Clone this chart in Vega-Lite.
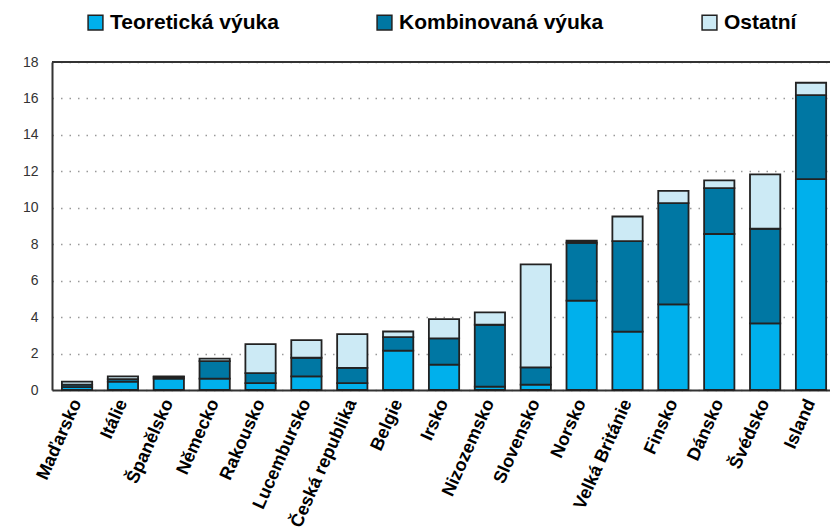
{
  "$schema": "https://vega.github.io/schema/vega-lite/v6.json",
  "autosize": "none",
  "width": 778,
  "height": 328,
  "padding": {"left": 52, "top": 62, "right": 0, "bottom": 140},
  "background": "white",
  "config": {
    "view": {"stroke": null},
    "font": "Liberation Sans"
  },
  "data": {
    "values": [
      {"zeme": "Maďarsko", "typ": "Teoretická výuka", "hodnota": 0.16, "poradi": 1},
      {"zeme": "Maďarsko", "typ": "Kombinovaná výuka", "hodnota": 0.14, "poradi": 2},
      {"zeme": "Maďarsko", "typ": "Ostatní", "hodnota": 0.16, "poradi": 3},
      {"zeme": "Itálie", "typ": "Teoretická výuka", "hodnota": 0.46, "poradi": 1},
      {"zeme": "Itálie", "typ": "Kombinovaná výuka", "hodnota": 0.14, "poradi": 2},
      {"zeme": "Itálie", "typ": "Ostatní", "hodnota": 0.15, "poradi": 3},
      {"zeme": "Španělsko", "typ": "Teoretická výuka", "hodnota": 0.62, "poradi": 1},
      {"zeme": "Španělsko", "typ": "Kombinovaná výuka", "hodnota": 0.1, "poradi": 2},
      {"zeme": "Španělsko", "typ": "Ostatní", "hodnota": 0.03, "poradi": 3},
      {"zeme": "Německo", "typ": "Teoretická výuka", "hodnota": 0.62, "poradi": 1},
      {"zeme": "Německo", "typ": "Kombinovaná výuka", "hodnota": 0.97, "poradi": 2},
      {"zeme": "Německo", "typ": "Ostatní", "hodnota": 0.13, "poradi": 3},
      {"zeme": "Rakousko", "typ": "Teoretická výuka", "hodnota": 0.38, "poradi": 1},
      {"zeme": "Rakousko", "typ": "Kombinovaná výuka", "hodnota": 0.55, "poradi": 2},
      {"zeme": "Rakousko", "typ": "Ostatní", "hodnota": 1.59, "poradi": 3},
      {"zeme": "Lucembursko", "typ": "Teoretická výuka", "hodnota": 0.75, "poradi": 1},
      {"zeme": "Lucembursko", "typ": "Kombinovaná výuka", "hodnota": 1.02, "poradi": 2},
      {"zeme": "Lucembursko", "typ": "Ostatní", "hodnota": 0.97, "poradi": 3},
      {"zeme": "Česká republika", "typ": "Teoretická výuka", "hodnota": 0.38, "poradi": 1},
      {"zeme": "Česká republika", "typ": "Kombinovaná výuka", "hodnota": 0.83, "poradi": 2},
      {"zeme": "Česká republika", "typ": "Ostatní", "hodnota": 1.86, "poradi": 3},
      {"zeme": "Belgie", "typ": "Teoretická výuka", "hodnota": 2.16, "poradi": 1},
      {"zeme": "Belgie", "typ": "Kombinovaná výuka", "hodnota": 0.74, "poradi": 2},
      {"zeme": "Belgie", "typ": "Ostatní", "hodnota": 0.31, "poradi": 3},
      {"zeme": "Irsko", "typ": "Teoretická výuka", "hodnota": 1.39, "poradi": 1},
      {"zeme": "Irsko", "typ": "Kombinovaná výuka", "hodnota": 1.44, "poradi": 2},
      {"zeme": "Irsko", "typ": "Ostatní", "hodnota": 1.06, "poradi": 3},
      {"zeme": "Nizozemsko", "typ": "Teoretická výuka", "hodnota": 0.18, "poradi": 1},
      {"zeme": "Nizozemsko", "typ": "Kombinovaná výuka", "hodnota": 3.4, "poradi": 2},
      {"zeme": "Nizozemsko", "typ": "Ostatní", "hodnota": 0.68, "poradi": 3},
      {"zeme": "Slovensko", "typ": "Teoretická výuka", "hodnota": 0.29, "poradi": 1},
      {"zeme": "Slovensko", "typ": "Kombinovaná výuka", "hodnota": 0.95, "poradi": 2},
      {"zeme": "Slovensko", "typ": "Ostatní", "hodnota": 5.65, "poradi": 3},
      {"zeme": "Norsko", "typ": "Teoretická výuka", "hodnota": 4.9, "poradi": 1},
      {"zeme": "Norsko", "typ": "Kombinovaná výuka", "hodnota": 3.18, "poradi": 2},
      {"zeme": "Norsko", "typ": "Ostatní", "hodnota": 0.11, "poradi": 3},
      {"zeme": "Velká Británie", "typ": "Teoretická výuka", "hodnota": 3.2, "poradi": 1},
      {"zeme": "Velká Británie", "typ": "Kombinovaná výuka", "hodnota": 4.97, "poradi": 2},
      {"zeme": "Velká Británie", "typ": "Ostatní", "hodnota": 1.35, "poradi": 3},
      {"zeme": "Finsko", "typ": "Teoretická výuka", "hodnota": 4.7, "poradi": 1},
      {"zeme": "Finsko", "typ": "Kombinovaná výuka", "hodnota": 5.56, "poradi": 2},
      {"zeme": "Finsko", "typ": "Ostatní", "hodnota": 0.67, "poradi": 3},
      {"zeme": "Dánsko", "typ": "Teoretická výuka", "hodnota": 8.56, "poradi": 1},
      {"zeme": "Dánsko", "typ": "Kombinovaná výuka", "hodnota": 2.52, "poradi": 2},
      {"zeme": "Dánsko", "typ": "Ostatní", "hodnota": 0.42, "poradi": 3},
      {"zeme": "Švédsko", "typ": "Teoretická výuka", "hodnota": 3.66, "poradi": 1},
      {"zeme": "Švédsko", "typ": "Kombinovaná výuka", "hodnota": 5.19, "poradi": 2},
      {"zeme": "Švédsko", "typ": "Ostatní", "hodnota": 2.98, "poradi": 3},
      {"zeme": "Island", "typ": "Teoretická výuka", "hodnota": 11.57, "poradi": 1},
      {"zeme": "Island", "typ": "Kombinovaná výuka", "hodnota": 4.61, "poradi": 2},
      {"zeme": "Island", "typ": "Ostatní", "hodnota": 0.68, "poradi": 3}
    ]
  },
  "layer": [
    {
      "mark": {"type": "bar", "stroke": "#222222", "strokeWidth": 1.8},
      "encoding": {
        "x": {
          "field": "zeme",
          "type": "nominal",
          "sort": null,
          "scale": {"paddingInner": 0.34, "paddingOuter": 0.15, "align": 0.72},
          "axis": {
            "title": null,
            "labelAngle": -66,
            "labelFont": "Liberation Sans",
            "labelFontWeight": "bold",
            "labelFontSize": 18,
            "labelColor": "#000000",
            "labelPadding": 10,
            "labelOverlap": false,
            "ticks": false,
            "domainColor": "#333333",
            "domainWidth": 2,
            "labelLimit": 300
          }
        },
        "y": {
          "field": "hodnota",
          "type": "quantitative",
          "stack": "zero",
          "scale": {"domain": [0, 18], "nice": false},
          "axis": {
            "title": null,
            "values": [0, 2, 4, 6, 8, 10, 12, 14, 16, 18],
            "tickCount": 10,
            "labelOverlap": false,
            "labelFlush": false,
            "labelFont": "Liberation Sans",
            "labelFontSize": 14,
            "labelColor": "#333333",
            "labelPadding": 14,
            "ticks": false,
            "domainColor": "#333333",
            "domainWidth": 2,
            "grid": true,
            "gridColor": "#999999",
            "gridDash": [1.5, 7],
            "gridWidth": 1.5
          }
        },
        "color": {
          "field": "typ",
          "type": "nominal",
          "sort": ["Teoretická výuka", "Kombinovaná výuka", "Ostatní"],
          "scale": {
            "domain": ["Teoretická výuka", "Kombinovaná výuka", "Ostatní"],
            "range": ["#00B0EC", "#0077A3", "#CCEAF5"]
          },
          "legend": {
            "title": null,
            "orient": "none",
            "direction": "horizontal",
            "legendX": 33,
            "legendY": -50,
            "symbolType": "square",
            "symbolSize": 220,
            "symbolStrokeColor": "#222222",
            "symbolStrokeWidth": 1.5,
            "symbolOpacity": 1,
            "labelFont": "Liberation Sans",
            "labelFontWeight": "bold",
            "labelFontSize": 21,
            "labelColor": "#000000",
            "labelOffset": 4,
            "columnPadding": 95,
            "labelLimit": 300
          }
        },
        "order": {"field": "poradi", "type": "quantitative"}
      }
    },
    {
      "mark": {"type": "rule", "color": "#333333", "strokeWidth": 2},
      "encoding": {
        "y": {
          "datum": 18,
          "type": "quantitative",
          "axis": {
            "title": null,
            "values": [0, 2, 4, 6, 8, 10, 12, 14, 16, 18],
            "tickCount": 10,
            "labelOverlap": false,
            "labelFlush": false,
            "labelFont": "Liberation Sans",
            "labelFontSize": 14,
            "labelColor": "#333333",
            "labelPadding": 14,
            "ticks": false,
            "domainColor": "#333333",
            "domainWidth": 2,
            "grid": true,
            "gridColor": "#999999",
            "gridDash": [1.5, 7],
            "gridWidth": 1.5
          }
        }
      }
    }
  ]
}
